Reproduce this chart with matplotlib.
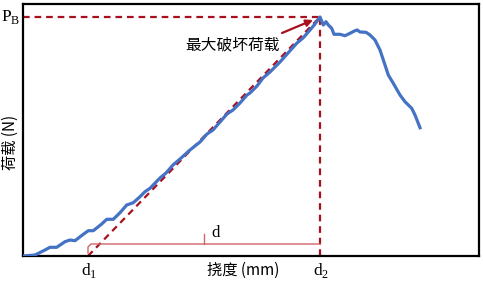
import matplotlib
matplotlib.use("Agg")
import matplotlib.pyplot as plt

plt.rcParams['font.family'] = ['Liberation Serif', 'Noto Sans CJK SC', 'DejaVu Sans']

# Load-deflection curve (arbitrary units: deflection, load)
deflection = [0.0, 1.2, 2.2, 2.7, 3.37, 4.2, 4.7, 5.2, 6.03, 6.53, 7.03, 7.87,
              8.37, 9.03, 9.7, 10.37, 11.03, 11.7, 12.2, 12.7, 13.7, 14.3,
              15.0, 15.7, 16.7, 17.7, 18.4, 19.0, 19.7, 20.4, 21.0, 21.7,
              22.4, 22.7, 23.4, 24.0, 24.7, 25.7, 26.5, 27.4, 28.0, 28.7,
              29.2, 29.7, 30.03, 30.3, 30.53, 30.87, 31.1, 31.7, 32.2, 32.7,
              33.2, 33.43, 33.7, 34.3, 34.7, 35.2, 35.7, 36.2, 36.53, 37.03,
              37.7, 38.2, 38.87, 39.2, 39.7]
load = [0.0, 0.1, 0.6, 0.87, 0.87, 1.43, 1.6, 1.53, 2.17, 2.53, 2.53, 3.2,
        3.67, 3.67, 4.33, 5.1, 5.33, 5.93, 6.43, 6.77, 7.8, 8.3,
        9.1, 9.7, 10.6, 11.4, 12.2, 12.6, 13.4, 14.2, 14.6, 15.3,
        16.1, 16.3, 17.0, 17.8, 18.4, 19.4, 20.3, 21.3, 21.8, 22.6,
        23.2, 23.9, 23.1, 23.43, 23.1, 22.77, 22.17, 22.17, 22.03, 22.27,
        22.53, 22.6, 22.4, 22.37, 22.1, 21.6, 20.6, 19.1, 18.1, 17.27,
        16.1, 15.43, 14.77, 14.1, 12.83]

peak_x, peak_y = 29.7, 23.9      # P_B at d2
d1_x = 6.5                        # secant intercept

fig = plt.figure(figsize=(4.83, 2.81), dpi=100)
ax = fig.add_axes([23/483, 25/281, 456/483, 252/281])
ax.set_xlim(0, 45.6)
ax.set_ylim(0, 25.2)
ax.set_xticks([]); ax.set_yticks([])
for s in ax.spines.values():
    s.set_linewidth(1.6)
    s.set_color('black')

red = '#A8101E'
dash = (0, (3, 2.2))
ax.plot([0, peak_x], [peak_y, peak_y], ls=dash, color=red, lw=1.6)
ax.plot([peak_x, peak_x], [0, peak_y], ls=dash, color=red, lw=1.6)
ax.plot([d1_x, peak_x], [0, peak_y], ls=dash, color=red, lw=1.6)

ax.plot(deflection, load, color='#4472C4', lw=2.3, zorder=3)

# bracket for d
bc = '#D0666A'
ax.plot([d1_x, d1_x, d1_x + 0.3, peak_x], [0.3, 0.9, 1.2, 1.2], color=bc, lw=1.0)
ax.plot([18.1, 18.1], [1.2, 2.2], color=bc, lw=1.0)
ax.text(18.8, 2.3, 'd', fontsize=12, ha='left', va='center')

# annotation
ax.annotate('', xy=(29.0, 23.6), xytext=(25.9, 22.3),
            arrowprops=dict(arrowstyle='-|>', color=red, lw=1.6,
                            mutation_scale=10, shrinkA=0, shrinkB=0))
ax.text(20.95, 21.1, '最大破坏荷载', fontsize=11.3, ha='center', va='center',
        family=['Noto Sans CJK SC', 'DejaVu Sans'])

# labels outside
fig.text(11/483, 1 - 17/281, r'P$_{\mathregular{B}}$', fontsize=12.5, ha='center', va='center')
fig.text(10/483, 1 - 142/281, '荷载 (N)', fontsize=11, ha='center', va='center',
         rotation=90, family=['Noto Sans CJK SC', 'DejaVu Sans'])
fig.text(89/483, 1 - 270/281, r'd$_{\mathregular{1}}$', fontsize=12.5, ha='center', va='center')
fig.text(321/483, 1 - 270/281, r'd$_{\mathregular{2}}$', fontsize=12.5, ha='center', va='center')
fig.text(243/483, 1 - 270/281, '挠度 (mm)', fontsize=11, ha='center', va='center',
         family=['Noto Sans CJK SC', 'DejaVu Sans'])

fig.savefig('out.png', dpi=100)
